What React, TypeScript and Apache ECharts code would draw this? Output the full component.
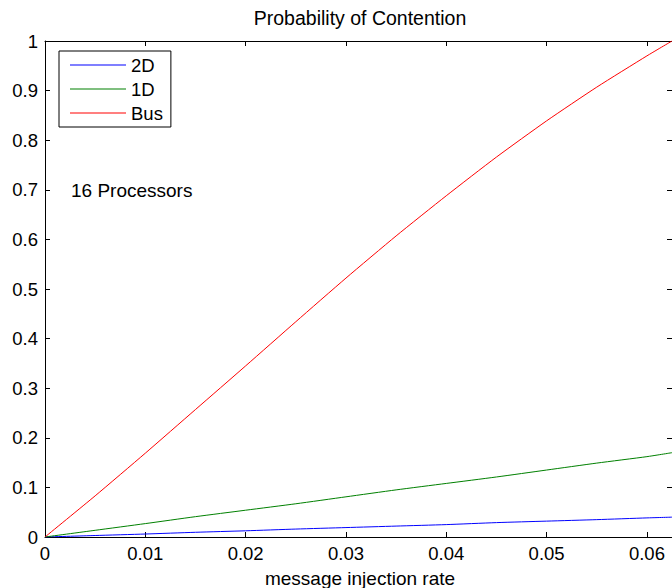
import React, { useEffect, useRef } from "react";
import * as echarts from "echarts";

const rates = [0, 0.005, 0.01, 0.015, 0.02, 0.025, 0.03, 0.035, 0.04, 0.045, 0.05, 0.055, 0.06, 0.0625];
const p2D = [0, 0.003, 0.006, 0.0095, 0.0125, 0.016, 0.019, 0.022, 0.025, 0.029, 0.032, 0.035, 0.0385, 0.04];
const p1D = [0, 0.0135, 0.027, 0.041, 0.054, 0.067, 0.081, 0.095, 0.108, 0.121, 0.135, 0.149, 0.162, 0.17];
const pBus = [0, 0.083, 0.169, 0.257, 0.345, 0.434, 0.522, 0.607, 0.688, 0.766, 0.839, 0.907, 0.97, 1.0];

const seriesNames = ["2D", "1D", "Bus"];
const seriesColors = ["#0000ff", "#008000", "#ff0000"];
const seriesValues = [p2D, p1D, pBus];

const titleText = "Probability of Contention";
const xAxisName = "message injection rate";
const noteText = "16 Processors";

export default function App() {
  const ref = useRef<HTMLDivElement>(null);
  useEffect(() => {
    document.body.style.margin = "0";
    const chart = echarts.init(ref.current!, null, { renderer: "svg" });
    const font = "'Liberation Sans', Arial, Helvetica, sans-serif";
    const line = { lineStyle: { color: "#000", width: 1 } };
    const tick = { inside: true, length: 5, lineStyle: { color: "#000", width: 1 } };
    const xCommon = { type: "value", min: 0, max: 0.0625, interval: 0.01, splitLine: { show: false } };
    const yCommon = { type: "value", min: 0, max: 1, interval: 0.1, splitLine: { show: false } };
    chart.setOption({
      animation: false,
      backgroundColor: "#fff",
      textStyle: { fontFamily: font },
      grid: { left: 45, top: 41, right: -3, bottom: 51, containLabel: false },
      xAxis: [
        {
          ...xCommon,
          position: "bottom",
          axisLine: { onZero: false, ...line },
          axisTick: tick,
          axisLabel: { color: "#000", fontSize: 18.5, fontFamily: font, margin: 7, showMaxLabel: false },
        },
        {
          ...xCommon,
          position: "top",
          axisLine: { onZero: false, ...line },
          axisTick: tick,
          axisLabel: { show: false },
        },
      ],
      yAxis: [
        {
          ...yCommon,
          position: "left",
          axisLine: { onZero: false, ...line },
          axisTick: tick,
          axisLabel: { color: "#000", fontSize: 18.5, fontFamily: font, margin: 7 },
        },
        {
          ...yCommon,
          position: "right",
          axisLine: { onZero: false, ...line },
          axisTick: tick,
          axisLabel: { show: false },
        },
      ],
      legend: {
        left: 59,
        top: 51,
        orient: "vertical",
        backgroundColor: "#fff",
        borderColor: "#000",
        borderWidth: 1,
        borderRadius: 0,
        padding: [2, 8, 2, 11],
        icon: "rect",
        itemWidth: 56,
        itemHeight: 1,
        itemGap: 0,
        textStyle: { fontSize: 18.5, color: "#000", lineHeight: 24, fontFamily: font },
        data: seriesNames,
      },
      graphic: [
        {
          type: "text",
          x: 360,
          y: 18,
          style: { text: titleText, fill: "#000", font: `19.5px ${font}`, textAlign: "center", textVerticalAlign: "middle" },
        },
        {
          type: "text",
          x: 360,
          y: 578,
          style: { text: xAxisName, fill: "#000", font: `19px ${font}`, textAlign: "center", textVerticalAlign: "middle" },
        },
        {
          type: "text",
          x: 71,
          y: 190,
          style: { text: noteText, fill: "#000", font: `19px ${font}`, textAlign: "left", textVerticalAlign: "middle" },
        },
      ],
      series: seriesNames.map((name, i) => ({
        name,
        type: "line",
        xAxisIndex: 0,
        yAxisIndex: 0,
        symbol: "none",
        showSymbol: false,
        smooth: 0.2,
        color: seriesColors[i],
        itemStyle: { color: seriesColors[i] },
        lineStyle: { color: seriesColors[i], width: 1 },
        data: rates.map((r, j) => [r, seriesValues[i][j]]),
      })),
    });
    return () => chart.dispose();
  }, []);
  return (
    <div style={{ position: "absolute", left: 0, top: 0, width: 672, height: 588, overflow: "hidden" }}>
      <div ref={ref} style={{ width: 672, height: 588 }} />
    </div>
  );
}
